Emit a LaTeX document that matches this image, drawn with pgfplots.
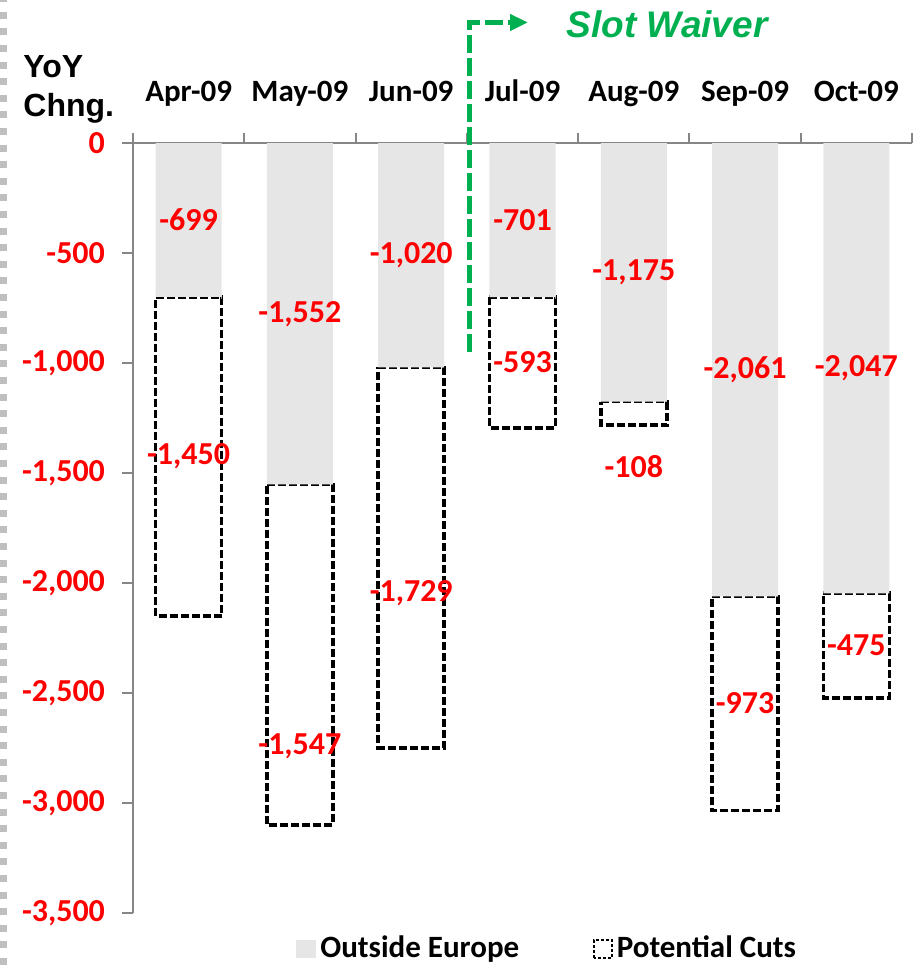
\documentclass[border=0pt]{standalone}
\usepackage{fontspec}
\setmainfont{Carlito}
\newfontfamily\arialfont{Liberation Sans}
\usepackage{pgfplots}
\usepackage{pgfplotstable}
\pgfplotsset{compat=1.18}
\usetikzlibrary{arrows.meta}
\definecolor{barfill}{HTML}{E6E6E6}
\definecolor{axgray}{HTML}{868686}
\definecolor{slotgreen}{HTML}{00B050}
\definecolor{bordergray}{HTML}{BFBFBF}
\newcommand{\pxy}[2]{({(#1)*0.5pt},{(965-(#2))*0.5pt})}

\pgfplotstableread{
x outside cuts
0 -699 -1450
1 -1552 -1547
2 -1020 -1729
3 -701 -593
4 -1175 -108
5 -2061 -973
6 -2047 -475
}\bardata

\pgfplotstableread{
x y label
0 -349.5 -699
1 -776 -1,552
2 -510 -1,020
3 -350.5 -701
4 -587.5 -1,175
5 -1030.5 -2,061
6 -1023.5 -2,047
}\outlabels

\pgfplotstableread{
x y label
0 -1424 -1,450
1 -2741 -1,547
2 -2045 -1,729
3 -997.5 -593
4 -1473 -108
5 -2547.5 -973
6 -2284.5 -475
}\cutlabels

\begin{document}
\begin{tikzpicture}
\useasboundingbox (0,0) rectangle (457pt,482.5pt);
\draw[bordergray, line width=3.5pt, dash pattern=on 3.5pt off 4.8pt] \pxy{3.5}{965} -- \pxy{3.5}{0};
\begin{axis}[
  at={(66.5pt,26pt)}, anchor=south west, scale only axis,
  width=389.5pt, height=385pt,
  xmin=-0.5, xmax=6.5, ymin=-3500, ymax=0,
  ybar stacked, bar width=33pt,
  axis x line*=top, axis y line*=left,
  axis line style={-, draw=axgray, line width=1pt},
  xtick={0,...,6},
  xticklabels={Apr-09,May-09,Jun-09,Jul-09,Aug-09,Sep-09,Oct-09},
  minor xtick={-0.5,0.5,...,6.5},
  major x tick style={draw=none},
  minor x tick style={draw=axgray, line width=1pt},
  minor tick length=5pt,
  major tick length=5.5pt,
  tick align=outside,
  ytick={-3500,-3000,...,0},
  y tick style={draw=axgray, line width=1pt},
  xticklabel style={font=\bfseries\fontsize{15.5}{18}\selectfont, anchor=base, yshift=15pt},
  yticklabel style={font=\bfseries\fontsize{16}{19}\selectfont, text=red, anchor=east, xshift=-5pt},
  /pgf/number format/assume math mode=true,
  /pgf/number format/1000 sep={,},
  scaled y ticks=false,
  legend style={at={(0.533,-0.0455)}, anchor=center, draw=none, fill=none,
    legend columns=2, font=\bfseries\fontsize{15.5}{18}\selectfont,
    /tikz/every even column/.append style={column sep=35pt}, inner sep=0pt},
]
\addplot[fill=barfill, draw=none,
  legend image code/.code={\fill[barfill] (0pt,-5pt) rectangle (10pt,4pt);}]
  table[x=x, y=outside]{\bardata};
\addlegendentry{Outside Europe}
\addplot[fill=white, draw=black, line width=1.85pt, dash pattern=on 4pt off 1.5pt,
  legend image code/.code={\draw[black, fill=white, line width=0.8pt, dash pattern=on 1.5pt off 1pt] (0pt,-5pt) rectangle (9pt,4pt);}]
  table[x=x, y=cuts]{\bardata};
\addlegendentry{Potential Cuts}
\end{axis}
\begin{axis}[
  at={(66.5pt,26pt)}, anchor=south west, scale only axis,
  width=389.5pt, height=385pt,
  xmin=-0.5, xmax=6.5, ymin=-3500, ymax=0,
  hide axis,
]
\addplot[draw=none, mark=none, nodes near coords, point meta=explicit symbolic,
  every node near coord/.append style={anchor=center, text=red, font=\bfseries\fontsize{16}{19}\selectfont}]
  table[x=x, y=y, meta=label]{\outlabels};
\addplot[draw=none, mark=none, nodes near coords, point meta=explicit symbolic,
  every node near coord/.append style={anchor=center, text=red, font=\bfseries\fontsize{16}{19}\selectfont}]
  table[x=x, y=y, meta=label]{\cutlabels};
\end{axis}
\draw[slotgreen, line width=2.5pt, dash pattern=on 9pt off 2.5pt, line join=miter, -{Triangle[length=9pt,width=8pt]}]
  \pxy{469.5}{352} -- \pxy{469.5}{22.5} -- \pxy{528}{22.5};
\node[anchor=base, inner sep=0pt, text=slotgreen, font=\arialfont\bfseries\itshape\fontsize{18.5}{22}\selectfont] at \pxy{667}{38} {Slot Waiver};
\node[anchor=base west, inner sep=0pt, font=\arialfont\bfseries\fontsize{16}{19}\selectfont] at \pxy{23}{78} {YoY};
\node[anchor=base west, inner sep=0pt, font=\arialfont\bfseries\fontsize{16}{19}\selectfont] at \pxy{23}{117} {Chng.};
\end{tikzpicture}
\end{document}
